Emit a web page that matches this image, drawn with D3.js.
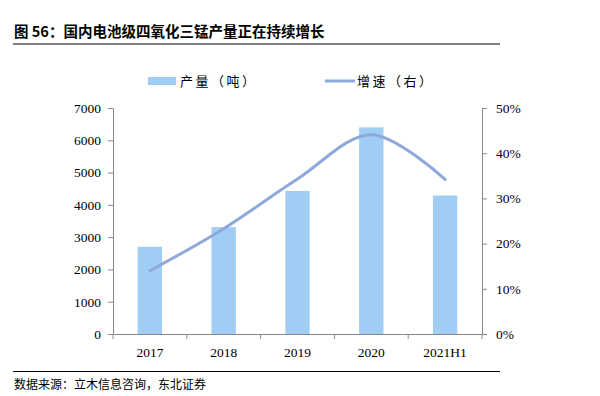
<!DOCTYPE html>
<html lang="zh">
<head>
<meta charset="UTF-8">
<title>四氧化三锰产量</title>
<script src="https://d3js.org/d3.v7.min.js"></script>
<style>
  body { margin: 0; background: #fff; }
  svg { display: block; }
</style>
</head>
<body>
<div class="canvas"></div>
<script>
const categories = ['2017', '2018', '2019', '2020', '2021H1'];
const output = [2700, 3310, 4430, 6400, 4290];      // 产量（吨）
const growth = [0.140, 0.233, 0.343, 0.441, 0.342];  // 增速（右）
const leftTicks = [0, 1000, 2000, 3000, 4000, 5000, 6000, 7000];
const rightTicks = [0, 0.1, 0.2, 0.3, 0.4, 0.5];

const width = 600, height = 396;
const [mt, mr, mb, ml] = [108, 118, 62, 113];
const gw = width - ml - mr;
const gh = height - mt - mb;

const svg = d3.select('.canvas').append('svg')
  .attr('width', width).attr('height', height);

const cjk = '"Noto Sans CJK SC", "Noto Serif CJK SC", serif';
const serif = '"Liberation Serif", "Times New Roman", serif';

// title
svg.append('text')
  .attr('x', 14).attr('y', 37)
  .attr('font-family', cjk).attr('font-weight', 'bold').attr('font-size', 14.5)
  .text('图  56：国内电池级四氧化三锰产量正在持续增长');
svg.append('line').attr('x1', 13).attr('x2', 500).attr('y1', 44).attr('y2', 44)
  .attr('stroke', '#000').attr('stroke-width', 1);

// source
svg.append('line').attr('x1', 13).attr('x2', 500).attr('y1', 371.5).attr('y2', 371.5)
  .attr('stroke', '#000').attr('stroke-width', 1);
svg.append('text')
  .attr('x', 14).attr('y', 389)
  .attr('font-family', cjk).attr('font-size', 12)
  .text('数据来源：立木信息咨询，东北证券');

const graph = svg.append('g').attr('transform', `translate(${ml}, ${mt})`);

const x = d3.scaleBand().domain(categories).range([0, gw]).paddingInner(0.67).paddingOuter(0.335);
const xb = d3.scaleBand().domain(categories).range([0, gw]);
const y = d3.scaleLinear().domain([0, 7000]).range([gh, 0]);
const y2 = d3.scaleLinear().domain([0, 0.5]).range([gh, 0]);

// bars
graph.selectAll('rect.bar').data(categories).enter()
  .append('rect').attr('class', 'bar')
  .attr('x', d => x(d))
  .attr('width', x.bandwidth())
  .attr('y', (d, i) => y(output[i]))
  .attr('height', (d, i) => gh - y(output[i]))
  .attr('fill', '#9fcdf4');

// line
const line = d3.line()
  .x((d, i) => xb(categories[i]) + xb.bandwidth() / 2)
  .y(d => y2(d))
  .curve(d3.curveCardinal.tension(0));
graph.append('path').datum(growth)
  .attr('d', line)
  .attr('fill', 'none')
  .attr('stroke', '#8fa8dc')
  .attr('stroke-width', 3)
  .attr('stroke-linecap', 'round');

// axes
const axisColor = '#888';
const xAxisG = graph.append('g').attr('transform', `translate(0, ${gh})`)
  .call(d3.axisBottom(xb).tickSize(5).tickSizeOuter(0).tickPadding(6));
xAxisG.selectAll('.tick line').remove();
xAxisG.selectAll('.tick text').attr('dy', '0.9em');
xAxisG.selectAll('.xt').data(d3.range(categories.length + 1)).enter()
  .append('line')
  .attr('x1', i => i * xb.step()).attr('x2', i => i * xb.step())
  .attr('y1', 0).attr('y2', 5)
  .attr('stroke', axisColor);

const yAxisG = graph.append('g')
  .call(d3.axisLeft(y).tickValues(leftTicks).tickFormat(d3.format('d')).tickSize(5).tickSizeOuter(0).tickPadding(7));
const y2AxisG = graph.append('g').attr('transform', `translate(${gw}, 0)`)
  .call(d3.axisRight(y2).tickValues(rightTicks).tickFormat(d3.format('.0%')).tickSize(5).tickSizeOuter(0).tickPadding(9));

[xAxisG, yAxisG, y2AxisG].forEach(g => {
  g.attr('font-family', serif).attr('font-size', 13.5);
  g.selectAll('.tick text').attr('fill', '#000');
  g.selectAll('path.domain').attr('stroke', axisColor);
  g.selectAll('.tick line').attr('stroke', axisColor);
});

// legend
const lg = svg.append('g').attr('font-family', cjk).attr('font-size', 13).attr('letter-spacing', 2.5);
lg.append('rect').attr('x', 148).attr('y', 77).attr('width', 28).attr('height', 8).attr('fill', '#9fcdf4');
lg.append('text').attr('x', 180).attr('y', 86).text('产量（吨）');
lg.append('line').attr('x1', 325).attr('x2', 355).attr('y1', 81).attr('y2', 81)
  .attr('stroke', '#8fa8dc').attr('stroke-width', 3);
lg.append('text').attr('x', 357).attr('y', 86).text('增速（右）');
</script>
</body>
</html>
